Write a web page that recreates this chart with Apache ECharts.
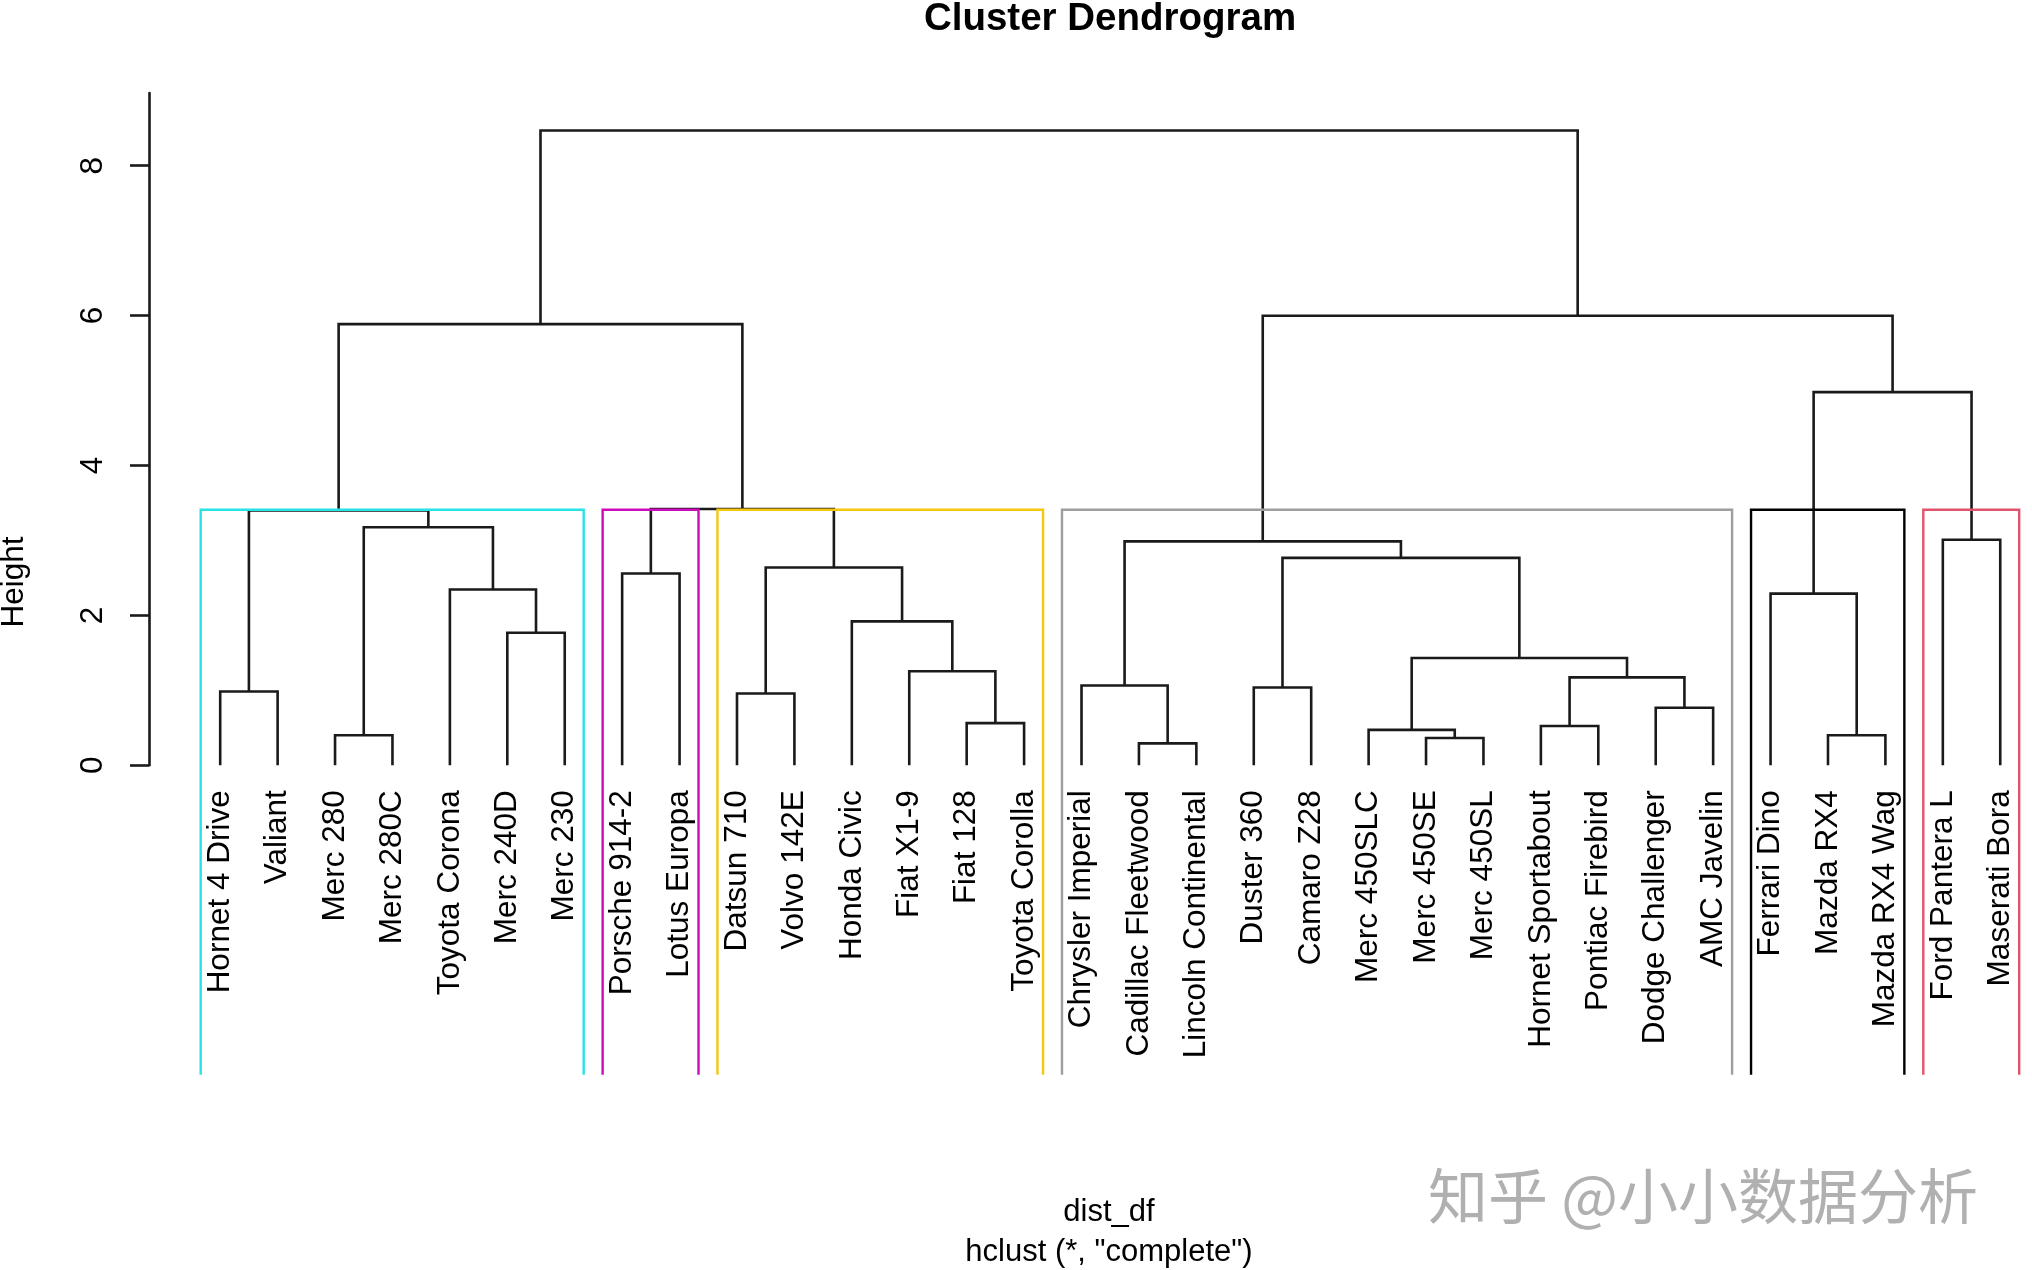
<!DOCTYPE html>
<html><head><meta charset="utf-8">
<script src="https://cdn.jsdelivr.net/npm/echarts@6/dist/echarts.min.js"></script>
<style>html,body{margin:0;padding:0;background:#fff}#c{width:2032px;height:1270px}</style>
</head><body><div id="c"></div>
<script>
// Leaf order as drawn (left to right)
const leafLabels = ['Hornet 4 Drive','Valiant','Merc 280','Merc 280C','Toyota Corona','Merc 240D','Merc 230',
  'Porsche 914-2','Lotus Europa','Datsun 710','Volvo 142E','Honda Civic','Fiat X1-9','Fiat 128','Toyota Corolla',
  'Chrysler Imperial','Cadillac Fleetwood','Lincoln Continental','Duster 360','Camaro Z28','Merc 450SLC','Merc 450SE',
  'Merc 450SL','Hornet Sportabout','Pontiac Firebird','Dodge Challenger','AMC Javelin','Ferrari Dino','Mazda RX4',
  'Mazda RX4 Wag','Ford Pantera L','Maserati Bora'];
// Merge table (like R's hclust$merge): negative = leaf position, positive = earlier merge row (1-based)
const mergeLeft  = [-17,-22,-3,-29,-21,-24,-14,-26,-10,-1,-19,-16, 6,-13, 5,-6,-12,-28,-5,-8, 9,11,12,-31, 3,10,20,26,18,23,28];
const mergeRight = [-18,-23,-4,-30,  2,-25,-15,-27,-11,-2,-20,  1, 8,  7,13,-7, 14,  4,16,-9,17,15,22,-32,19,25,21,27,24,29,30];
const mergeHeight = [0.293,0.364,0.401,0.401,0.472,0.525,0.563,0.768,0.957,0.984,1.038,1.065,1.173,1.254,1.431,1.769,
  1.920,2.290,2.346,2.560,2.640,2.767,2.988,3.010,3.177,3.400,3.420,5.886,4.979,5.999,8.470];
// rect.hclust(k = 6)
const clusterSizes = [7,2,6,12,3,2];
const clusterColors = ['#28E2E5','#CD0BBC','#F5C710','#9E9E9E','#000000','#DF536B'];
const yTicks = [0,2,4,6,8];
const yMin = 0, yMax = 8.97;
const xMin = -0.24, xMax = 32.553;
const plotBottomValue = -4.13;

// build node positions
const nodeX = [], nodeH = [];
function childPos(c){ return c < 0 ? [-c, 0] : [nodeX[c-1], nodeH[c-1]]; }
const mergeData = mergeLeft.map((l,i)=>{
  const a = childPos(l), b = childPos(mergeRight[i]);
  nodeX[i] = (a[0]+b[0])/2; nodeH[i] = mergeHeight[i];
  return [a[0], a[1], b[0], b[1], mergeHeight[i]];
});
const k = clusterSizes.length;
const sortedH = mergeHeight.slice().sort((a,b)=>b-a);
const rectTop = (sortedH[k-2] + sortedH[k-1]) / 2;
let cum = 0;
const rectData = clusterSizes.map((s,i)=>{ const d=[cum+0.66, plotBottomValue, cum+s+0.33, rectTop, i]; cum+=s; return d; });

const FONT = '"Liberation Sans", Arial, sans-serif';
const LINE = '#1a1a1a';
const chart = echarts.init(document.getElementById('c'), null, {renderer:'canvas'});
chart.setOption({
  animation:false,
  backgroundColor:'#fff',
  grid:{left:149, right:0, top:93, bottom:504.7, containLabel:false},
  xAxis:{type:'value', min:xMin, max:xMax, show:false},
  yAxis:{type:'value', min:yMin, max:yMax, position:'left',
    axisLine:{show:true, onZero:false, lineStyle:{color:LINE, width:2.6}},
    axisTick:{show:true, inside:false, length:19, customValues:yTicks, lineStyle:{color:LINE, width:2.6}},
    axisLabel:{show:false}, splitLine:{show:false}},
  series:[
    {type:'custom', clip:false, z:2, data:mergeData,
      renderItem:(p, api)=>{
        const a0=api.coord([api.value(0), api.value(1)]), a1=api.coord([api.value(0), api.value(4)]);
        const b1=api.coord([api.value(2), api.value(4)]), b0=api.coord([api.value(2), api.value(3)]);
        return {type:'polyline', shape:{points:[a0,a1,b1,b0]}, style:{stroke:LINE, lineWidth:2.6, fill:null}};
      }},
    {type:'custom', clip:false, z:3, data:rectData,
      renderItem:(p, api)=>{
        const p0=api.coord([api.value(0), api.value(1)]), p1=api.coord([api.value(2), api.value(3)]);
        return {type:'polyline', shape:{points:[[p0[0],p0[1]],[p0[0],p1[1]],[p1[0],p1[1]],[p1[0],p0[1]]]},
          style:{stroke:clusterColors[api.value(4)], lineWidth:2.4, fill:null}};
      }},
    {type:'custom', clip:false, z:4, data:leafLabels.map((n,i)=>[i+1, 0]),
      renderItem:(p, api)=>{
        const c=api.coord([api.value(0), api.value(1)]);
        return {type:'text', x:c[0], y:c[1]+25, rotation:Math.PI/2,
          style:{text:leafLabels[p.dataIndex], fontSize:31.5, fontFamily:FONT, fill:'#000', align:'right', verticalAlign:'middle'}};
      }},
    {type:'custom', clip:false, z:4, data:yTicks.map(v=>[xMin, v]),
      renderItem:(p, api)=>{
        const c=api.coord([api.value(0), api.value(1)]);
        return {type:'text', x:c[0]-56, y:c[1], rotation:Math.PI/2,
          style:{text:String(yTicks[p.dataIndex]), fontSize:31.5, fontFamily:FONT, fill:'#000', align:'center', verticalAlign:'middle'}};
      }}
  ],
  graphic:[
    {type:'text', x:1110, y:19, style:{text:'Cluster Dendrogram', fontSize:38.5, fontWeight:'bold', fontFamily:FONT, fill:'#000', align:'center', verticalAlign:'middle'}},
    {type:'text', x:14, y:582, rotation:Math.PI/2, style:{text:'Height', fontSize:31.5, fontFamily:FONT, fill:'#000', align:'center', verticalAlign:'middle'}},
    {type:'text', x:1109, y:1212, style:{text:'dist_df', fontSize:31, fontFamily:FONT, fill:'#000', align:'center', verticalAlign:'middle'}},
    {type:'text', x:1109, y:1252, style:{text:'hclust (*, "complete")', fontSize:31, fontFamily:FONT, fill:'#000', align:'center', verticalAlign:'middle'}},
    {type:'text', x:1703, y:1196, style:{text:'知乎 @小小数据分析', fontSize:60, fontFamily:'"Noto Sans CJK SC", sans-serif', fill:'#b0b0b0', align:'center', verticalAlign:'middle'}}
  ]
});
</script></body></html>
